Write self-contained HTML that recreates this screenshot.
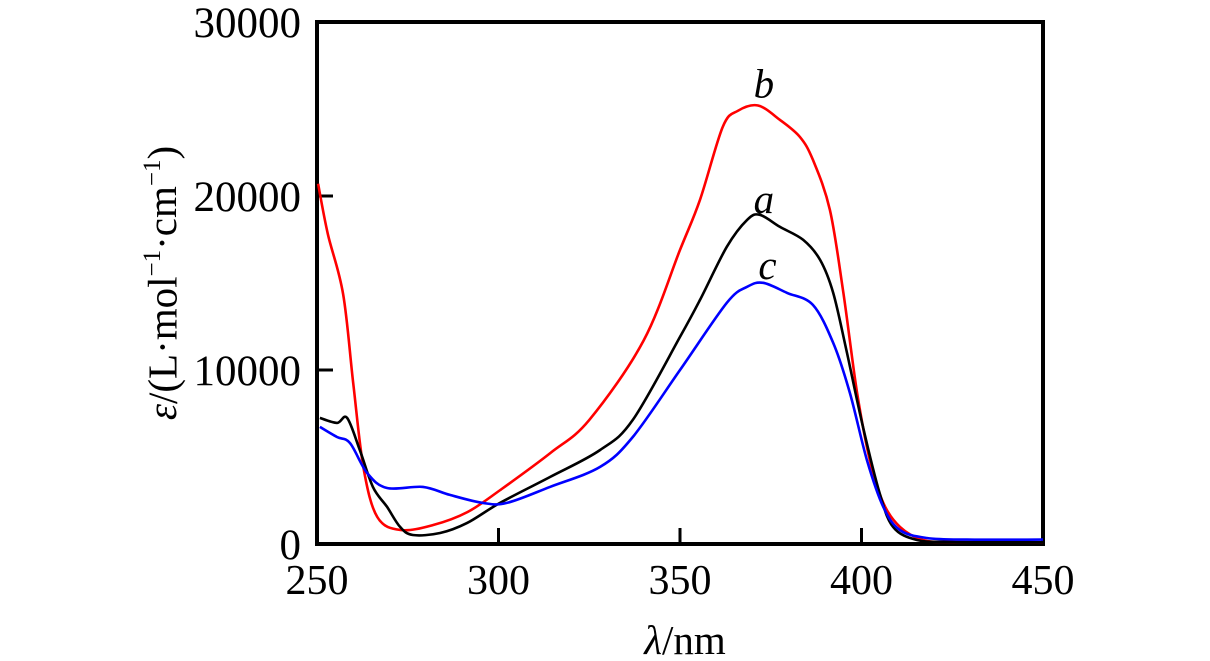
<!DOCTYPE html>
<html><head><meta charset="utf-8"><style>
body{margin:0;background:#fff;}
svg{display:block;font-family:"Liberation Serif",serif;}
</style></head><body>
<svg id="chart" width="1210" height="661" viewBox="0 0 1210 661" xmlns="http://www.w3.org/2000/svg">
<g id="axes"></g>
<g id="series"></g>
<text transform="translate(167,283) rotate(-90)" text-anchor="middle" font-size="41" dominant-baseline="middle"><tspan font-style="italic">ε</tspan>/(L·mol<tspan font-size="25" dy="-13">−1</tspan><tspan dy="13">·cm</tspan><tspan font-size="25" dy="-13">−1</tspan><tspan dy="13">)</tspan></text>
<text x="685" y="654" text-anchor="middle" font-size="41"><tspan font-style="italic">λ</tspan>/nm</text>
</svg>
<script>
const xTicks=[250,300,350,400,450];
const yTicks=[0,10000,20000,30000];
const wlA=[250.8,255.5,258.3,261.8,265.4,269.3,272.9,276.4,283.9,291.3,300.4,314.2,328,337,350,355.5,362.9,368.5,372,377.5,383.9,388.6,392.2,396,400.4,405,408.7,415.3,425,450];
const epsA=[7245,6960,7245,5400,3280,2130,980,520,630,1200,2360,3850,5400,7130,11900,14030,17080,18630,18920,18230,17480,16330,14430,10980,6730,2930,980,230,120,100];
const wlB=[250.3,253,257.2,260,262.8,266.6,273,282,291.5,300.5,314.3,325,340,350,355.5,361.8,366,371.5,377.5,383,386.6,391.3,395,398.8,402.3,406,410.6,417,425,450];
const epsB=[20700,17800,14370,9200,4370,1550,805,1090,1840,3105,5230,7130,11700,16900,19780,23980,24900,25200,24380,23400,22080,19200,14430,8680,4830,2360,980,230,120,100];
const wlC=[250.8,255.5,259.1,263.8,269.3,279.2,286.6,295.7,302.3,314.2,328,337,350,362.9,368.5,372.9,379.5,386.6,392.2,396.8,401.5,406,410.6,418,429,450];
const epsC=[6730,6150,5800,4080,3220,3280,2820,2360,2360,3280,4430,6150,10000,13860,14780,15010,14430,13740,11560,8680,4830,2130,800,345,250,250];
const NS="http://www.w3.org/2000/svg";
const X=v=>317+(v-250)*3.63;
const Y=v=>544-v*0.0174;
function mk(t,a,p){const e=document.createElementNS(NS,t);for(const k in a)e.setAttribute(k,a[k]);p.appendChild(e);return e;}
function smooth(pts){let d='M'+pts[0][0].toFixed(1)+','+pts[0][1].toFixed(1);
 for(let i=0;i<pts.length-1;i++){const p0=pts[i-1]||pts[i],p1=pts[i],p2=pts[i+1],p3=pts[i+2]||p2;
  const c1=[p1[0]+(p2[0]-p0[0])/6,p1[1]+(p2[1]-p0[1])/6],c2=[p2[0]-(p3[0]-p1[0])/6,p2[1]-(p3[1]-p1[1])/6];
  d+=` C${c1[0].toFixed(1)},${c1[1].toFixed(1)} ${c2[0].toFixed(1)},${c2[1].toFixed(1)} ${p2[0].toFixed(1)},${p2[1].toFixed(1)}`;}
 return d;}
const ax=document.getElementById('axes');
let l=mk('rect',{x:X(250),y:Y(30000),width:X(450)-X(250),height:Y(0)-Y(30000),fill:'none',stroke:'#000','stroke-width':4},ax);


xTicks.forEach(v=>{
 if(v>250&&v<450){const t=mk('line',{x1:X(v),x2:X(v),y1:543,y2:528,stroke:'#000','stroke-width':3},ax);
 
 }
 const s=mk('text',{x:X(v),y:594,'text-anchor':'middle','font-size':42},ax);s.textContent=v;
 
 
});
yTicks.forEach(v=>{
 if(v>0&&v<30000){const t=mk('line',{x1:318,x2:333,y1:Y(v),y2:Y(v),stroke:'#000','stroke-width':3},ax);
 
 }
 const s=mk('text',{x:301,y:Y(v)+15,'text-anchor':'end','font-size':43},ax);s.textContent=v;
 
 
});
const sg=document.getElementById('series');
[[wlB,epsB,'#f00','series-b'],[wlA,epsA,'#000','series-a'],[wlC,epsC,'#00f','series-c']].forEach(([w,e,c,n])=>{
 const p=mk('path',{d:smooth(w.map((v,i)=>[X(v),Y(e[i])])),fill:'none',stroke:c,'stroke-width':2.6,'stroke-linejoin':'round'},sg);
 
 
});
const labs=[['b',372,25200,8],['a',372,18920,2],['c',373,15010,4]];
labs.forEach(([t,w,e,o])=>{
 const s=mk('text',{x:X(w)+4,y:Y(e)-o,'text-anchor':'middle','font-size':41,'font-style':'italic'},sg);s.textContent=t;
 
 
});
</script>
</body></html>
